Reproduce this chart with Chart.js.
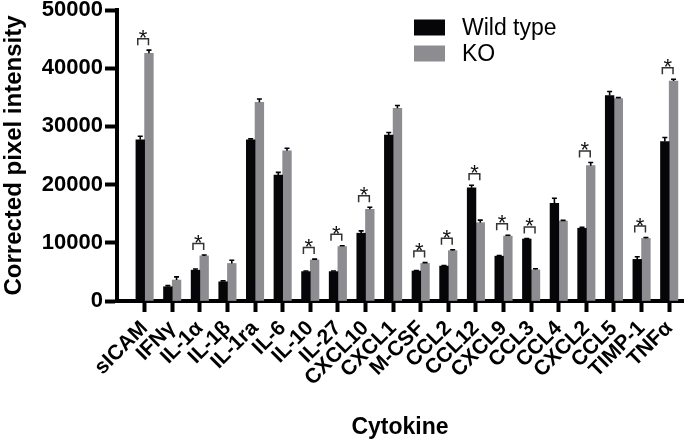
<!DOCTYPE html>
<html>
<head>
<meta charset="utf-8">
<script src="https://cdn.jsdelivr.net/npm/chart.js@4.4.1/dist/chart.umd.min.js"></script>
<style>
  html, body { margin: 0; padding: 0; background: #fff; }
  #wrap { width: 688px; height: 441px; }
</style>
</head>
<body>
<div id="wrap"><canvas id="grafico"></canvas></div>
<script>
// valores (intensidade corrigida, média + erro)
const cytokines = ['sICAM', 'IFNγ', 'IL-1α', 'IL-1β', 'IL-1ra', 'IL-6', 'IL-10', 'IL-27', 'CXCL10', 'CXCL1',
  'M-CSF', 'CCL2', 'CCL12', 'CXCL9', 'CCL3', 'CCL4', 'CXCL2', 'CCL5', 'TIMP-1', 'TNFα'];
const wildType    = [27700, 2450, 5300, 3300, 27700, 21650, 5050, 5050, 11650, 28500, 5150, 6000, 19450, 7700, 10650, 16800, 12500, 35300, 7150, 27400];
const wildTypeErr = [600, 200, 200, 150, 150, 450, 100, 100, 400, 450, 100, 100, 450, 100, 100, 850, 150, 700, 450, 700];
const ko          = [42550, 3600, 7750, 6450, 34150, 25800, 7050, 9350, 15750, 33100, 6450, 8650, 13450, 11150, 5350, 13750, 23250, 34800, 10750, 37800];
const koErr       = [550, 550, 150, 550, 550, 450, 150, 150, 350, 500, 150, 150, 450, 150, 200, 100, 550, 150, 150, 300];
const significant = ['sICAM', 'IL-1α', 'IL-10', 'IL-27', 'CXCL10', 'M-CSF', 'CCL2', 'CCL12', 'CXCL9', 'CCL3', 'CXCL2', 'TIMP-1', 'TNFα'];
const yTicks = [0, 10000, 20000, 30000, 40000, 50000];

const FONTE = "'Liberation Sans', Arial, Helvetica, sans-serif";
Chart.defaults.font.family = FONTE;
Chart.defaults.color = '#000';

const PRETO = '#060608';
const CINZA = '#8d8d91';

// barras de erro (só a parte de cima aparece)
const errorBars = {
  id: 'errorBars',
  afterDatasetsDraw(chart) {
    const ctx = chart.ctx, y = chart.scales.y;
    ctx.save();
    ctx.strokeStyle = '#000';
    ctx.lineWidth = 1.6;
    chart.data.datasets.forEach((ds, d) => {
      chart.getDatasetMeta(d).data.forEach((bar, i) => {
        const top = y.getPixelForValue(ds.data[i].y + ds.errors[i]);
        ctx.beginPath();
        ctx.moveTo(bar.x, bar.y); ctx.lineTo(bar.x, top);
        ctx.moveTo(bar.x - 2.5, top); ctx.lineTo(bar.x + 2.5, top);
        ctx.stroke();
      });
    });
    ctx.restore();
  }
};

// colchetes com asterisco
const brackets = {
  id: 'brackets',
  afterDatasetsDraw(chart) {
    const ctx = chart.ctx, y = chart.scales.y;
    const m0 = chart.getDatasetMeta(0).data, m1 = chart.getDatasetMeta(1).data;
    ctx.save();
    ctx.strokeStyle = '#333';
    ctx.lineWidth = 1.5;
    ctx.fillStyle = '#111';
    ctx.font = '22px ' + FONTE;
    ctx.textAlign = 'center';
    ctx.textBaseline = 'alphabetic';
    for (const nome of significant) {
      const i = cytokines.indexOf(nome);
      const alto = Math.max(wildType[i] + wildTypeErr[i], ko[i] + koErr[i]);
      const base = y.getPixelForValue(alto) - 5;
      const topo = base - 6.5;
      const x0 = m0[i].x - 2.5, x1 = m1[i].x - 0.5;
      ctx.beginPath();
      ctx.moveTo(x0, base); ctx.lineTo(x0, topo); ctx.lineTo(x1, topo); ctx.lineTo(x1, base);
      ctx.stroke();
      ctx.fillText('*', (x0 + x1) / 2, topo - 6 + 12.5);
    }
    ctx.restore();
  }
};

// legenda no canto
const legenda = {
  id: 'legenda',
  afterDraw(chart) {
    const ctx = chart.ctx;
    ctx.save();
    ctx.font = '23px ' + FONTE;
    ctx.textBaseline = 'middle';
    ctx.textAlign = 'left';
    chart.data.datasets.forEach((ds, d) => {
      const cy = 27.5 + d * 26;
      ctx.fillStyle = ds.backgroundColor;
      ctx.fillRect(414, cy - 8, 31, 16);
      ctx.fillStyle = '#000';
      ctx.fillText(ds.label, 462, cy + 1);
    });
    ctx.restore();
  }
};

new Chart(document.getElementById('grafico'), {
  type: 'bar',
  data: {
    datasets: [
      { label: 'Wild type', data: wildType.map((v, i) => ({ x: i, y: v })), errors: wildTypeErr, backgroundColor: PRETO },
      { label: 'KO', data: ko.map((v, i) => ({ x: i, y: v })), errors: koErr, backgroundColor: CINZA }
    ]
  },
  options: {
    responsive: true,
    maintainAspectRatio: false,
    animation: false,
    layout: { padding: { top: 10, right: 5, left: 0, bottom: 0 } },
    datasets: { bar: { barThickness: 8.7 } },
    plugins: { legend: { display: false }, tooltip: { enabled: false } },
    scales: {
      x: {
        type: 'linear', min: -1, max: 19.5, offset: false,
        afterBuildTicks: s => { s.ticks = cytokines.map((_, i) => ({ value: i })); },
        afterFit: s => { s.height = 140; s.paddingLeft = 0; s.paddingRight = 0; },
        ticks: {
          callback: v => cytokines[v], autoSkip: false, maxRotation: 45, minRotation: 45,
          padding: 4, color: '#000', font: { size: 21, weight: 'bold' }
        },
        grid: { offset: false, drawOnChartArea: false, drawTicks: true, tickLength: 11, tickWidth: 4, tickColor: '#000' },
        border: { display: true, width: 4, color: '#000' },
        title: { display: true, text: 'Cytokine', color: '#000', padding: 0, font: { size: 23, weight: 'bold' } }
      },
      y: {
        min: 0, max: 50000,
        afterBuildTicks: s => { s.ticks = yTicks.map(v => ({ value: v })); },
        afterFit: s => { s.width = 117; s.paddingTop = 0; s.paddingBottom = 0; },
        ticks: { callback: v => String(v), padding: 2, color: '#000', font: { size: 22, weight: 'bold' } },
        grid: { drawOnChartArea: false, drawTicks: true, tickLength: 12, tickWidth: 4, tickColor: '#000' },
        border: { display: true, width: 4, color: '#000' },
        title: { display: true, text: 'Corrected pixel intensity', color: '#000', padding: 0, font: { size: 24, weight: 'bold' } }
      }
    }
  },
  plugins: [errorBars, brackets, legenda]
});
</script>
</body>
</html>
